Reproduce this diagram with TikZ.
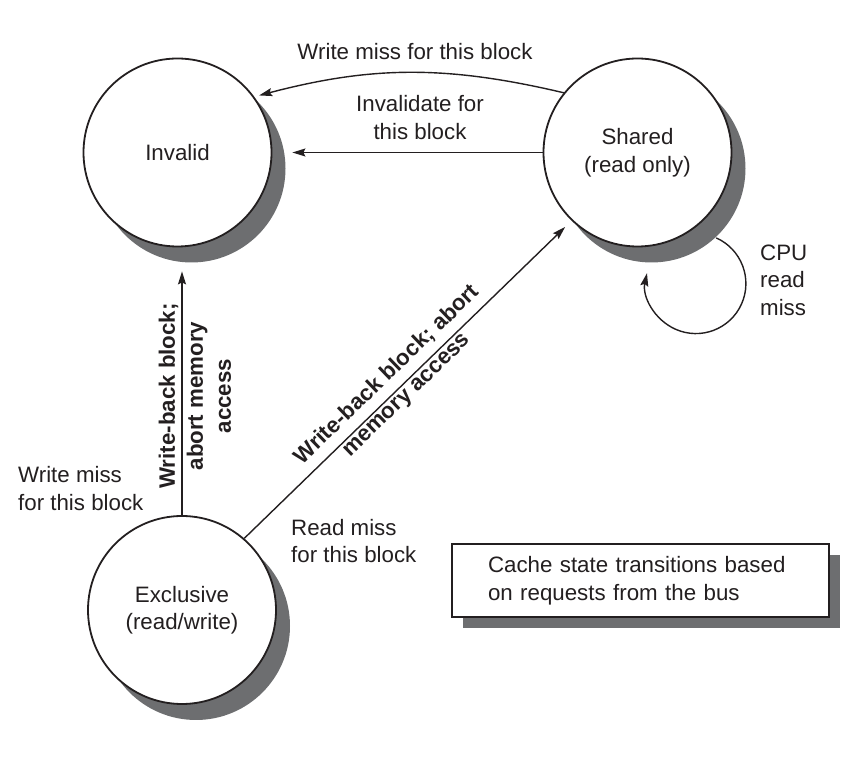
\documentclass[tikz,border=0pt]{standalone}
\usepackage{fontspec}
\setmainfont{Liberation Sans}
\usetikzlibrary{arrows.meta,shadows}
\definecolor{shade}{HTML}{6D6E70}
\definecolor{ink}{HTML}{231F20}
\begin{document}
\begin{tikzpicture}[x=1pt,y=1pt,
  every node/.style={font=\fontsize{22.3}{27.5}\selectfont, text=ink},
  state/.style={circle, draw=ink, line width=1.8pt, fill=white, minimum size=188pt,
     inner sep=0pt, align=center,
     general shadow={shadow xshift=14pt, shadow yshift=-16pt, fill=shade}},
  legendbox/.style={rectangle, draw=ink, line width=2pt, fill=white, text width=305pt,
     inner xsep=36pt, minimum height=73pt, align=left,
     general shadow={shadow xshift=11pt, shadow yshift=-11pt, fill=shade}},
  arr/.style={draw=ink, line width=1.4pt, -{Stealth[length=13pt,width=8pt,inset=2pt]}},
  lbl/.style={inner sep=0pt, align=center},
  lbll/.style={inner sep=0pt, align=left, anchor=west},
  boldlbl/.style={inner sep=0pt, align=center, font=\fontsize{22.3}{28}\selectfont\bfseries}
]
\useasboundingbox (0,0) rectangle (855,769);

\node[state] (inv) at (177.5,616.5) {Invalid};
\node[state] (sh) at (637.5,616.5) {Shared\\(read only)};
\node[state] (exc) at (182,159) {Exclusive\\(read/write)};

\node[legendbox] (legend) at (640.5,188.5) {Cache state transitions based\\on requests from the bus};

% connectors
\draw[arr, shorten >=5pt] (sh.141) to[bend right=14] (inv.36);
\draw[arr, shorten >=20pt] (sh.west) -- (inv.east);
\draw[arr, shorten >=24pt] (exc.north) -- (exc.north |- inv.south);
\draw[arr, shorten >=9pt] (exc.49) -- (sh.226);
\coordinate (loopstart) at ([shift={(14,-16)}]sh.-47);
\draw[arr] (loopstart) arc[start angle=66, end angle=-192, radius=50];

% labels
\node[lbl] (l1) at (415,717) {Write miss for this block};
\node[lbl] (l2) at (420,651.5) {Invalidate for\\this block};
\node[boldlbl, rotate=90] (l3) at (195,373) {Write-back block;\\abort memory\\access};
\node[boldlbl, rotate=44] (l4) at (397,384) {Write-back block; abort\\memory access};
\node[lbll] (l5) at (18,280.5) {Write miss\\for this block};
\node[lbll] (l6) at (291,228) {Read miss\\for this block};
\node[lbll] (l7) at (760,489) {CPU\\read\\miss};
\end{tikzpicture}
\end{document}
